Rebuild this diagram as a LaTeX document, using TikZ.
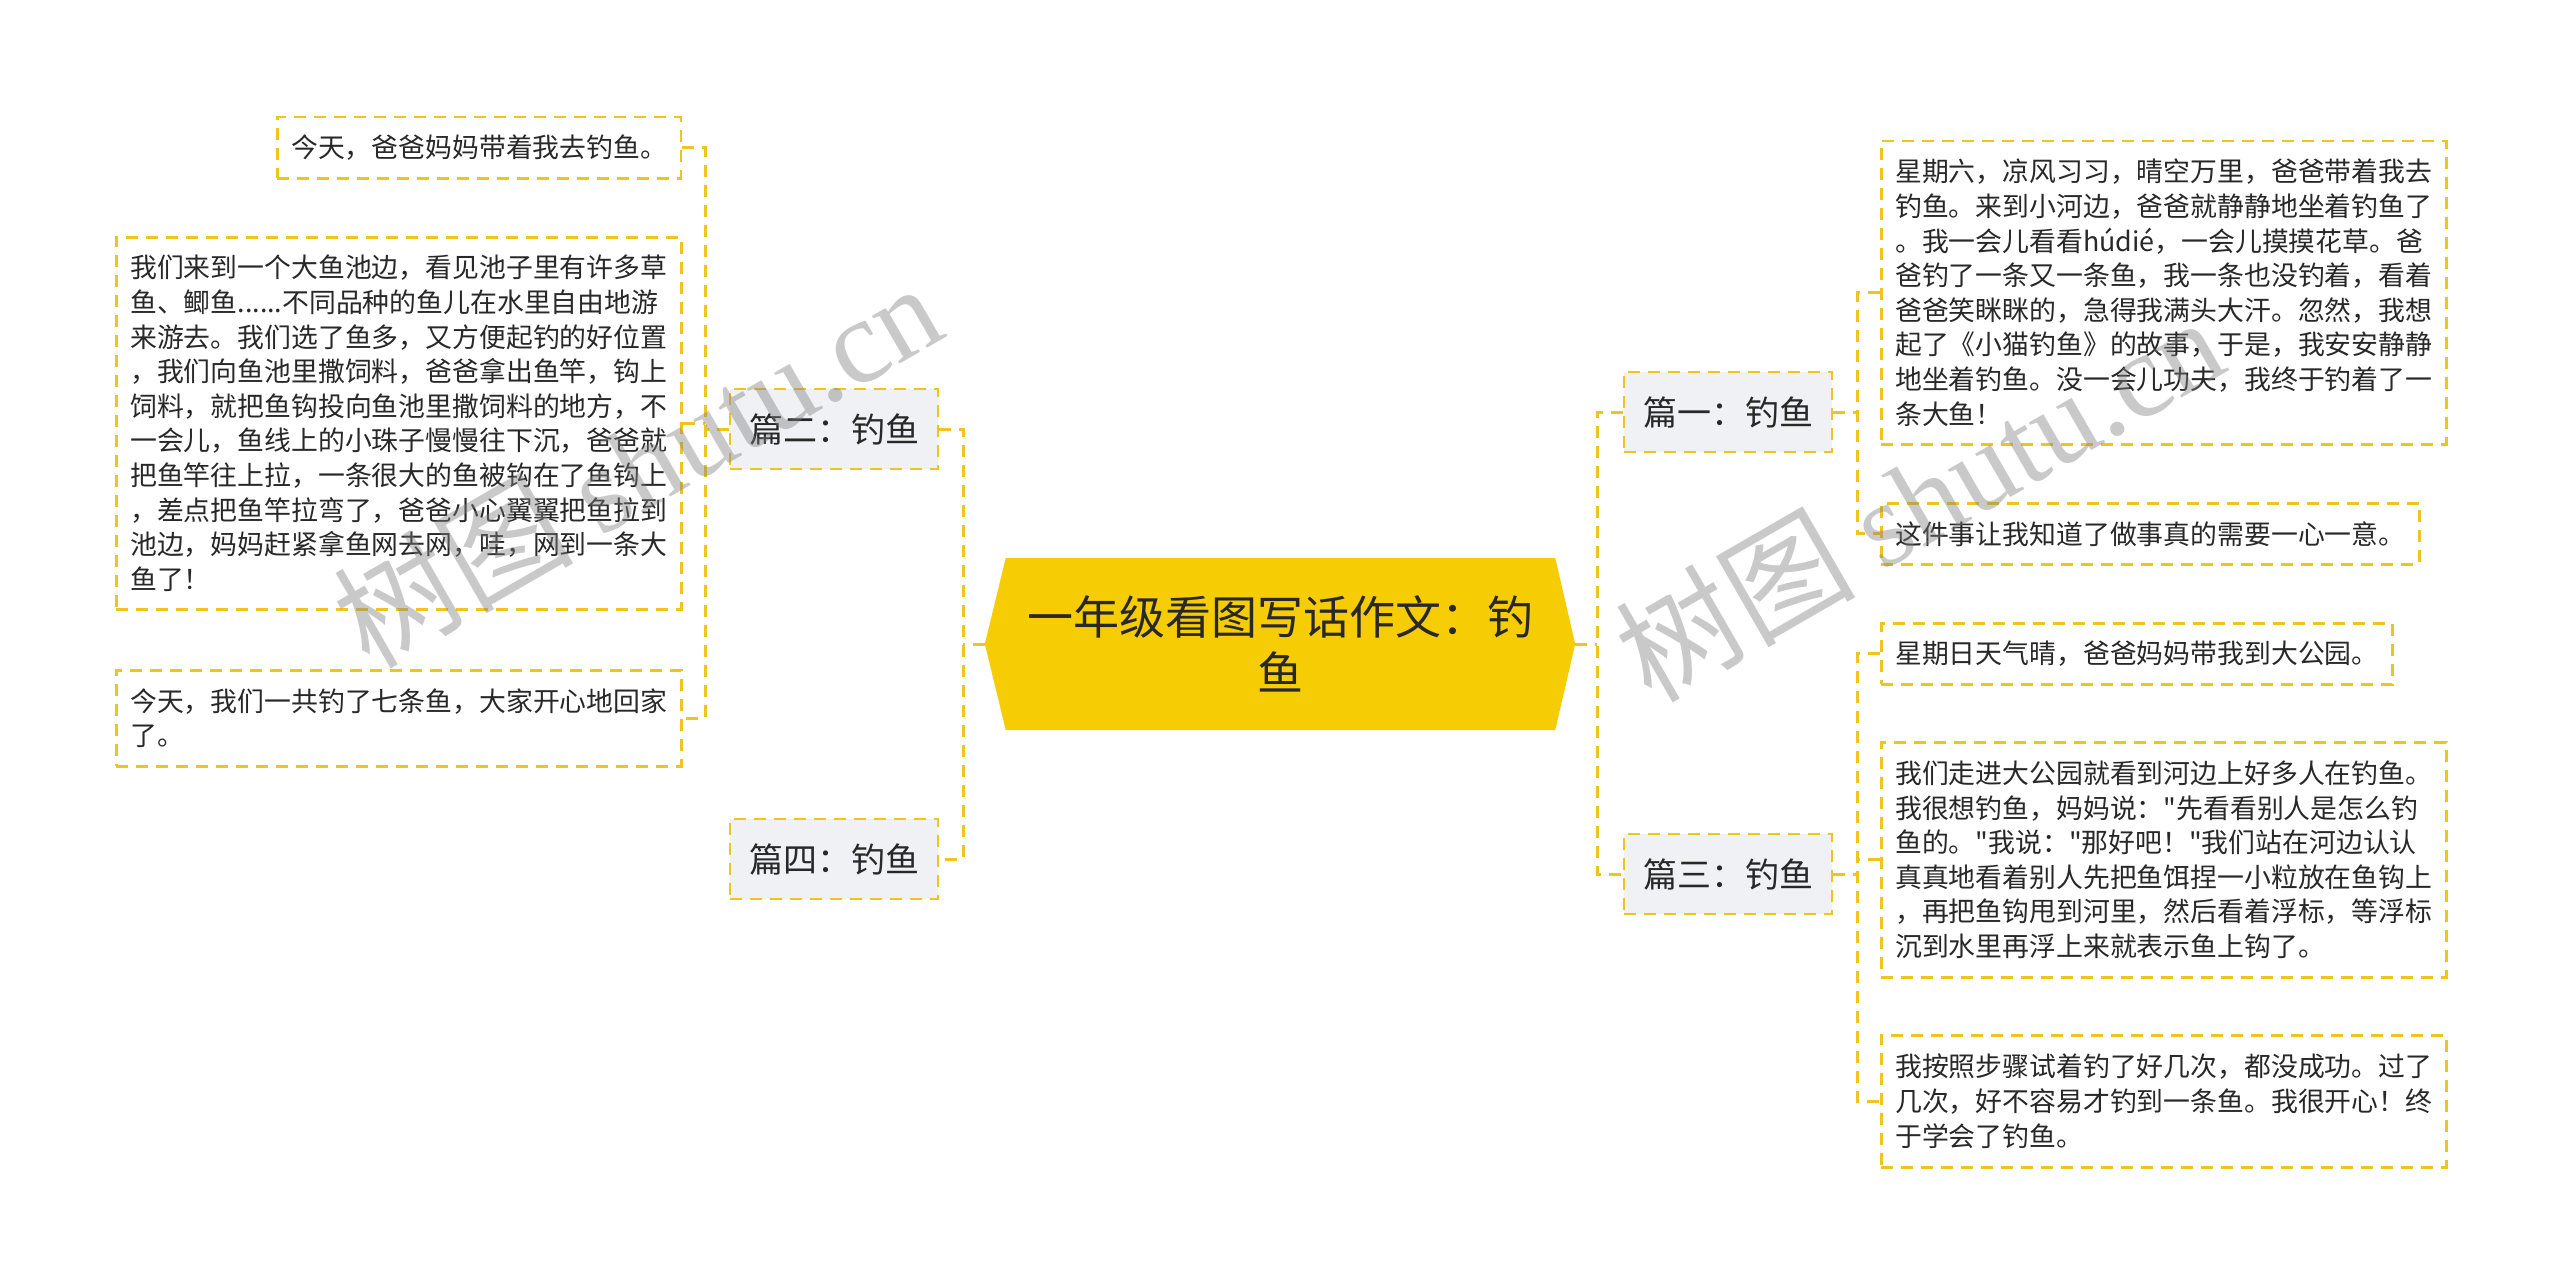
\documentclass[tikz,border=0pt]{standalone}
\usepackage{fontspec}
\setmainfont{Noto Sans CJK SC}
\newfontfamily\bodyfont{Noto Sans CJK SC}
\newfontfamily\wmlatin{Liberation Serif}
\newfontfamily\wmcjk{Noto Sans CJK SC}
\usetikzlibrary{backgrounds}
\definecolor{ylw}{RGB}{240,196,30}
\definecolor{cfill}{RGB}{246,205,5}
\definecolor{pfill}{RGB}{239,241,244}
\definecolor{txt}{RGB}{40,40,40}
\tikzset{
  conn/.style={draw=ylw, line width=3pt, dash pattern=on 12pt off 8pt},
  leaf/.style={draw=ylw, line width=2.5pt, dash pattern=on 12pt off 8pt, fill=white,
    anchor=north west, align=left, inner xsep=14pt, inner ysep=0pt,
    font=\bodyfont\fontsize{26.85}{34.6}\selectfont, text=txt},
  part/.style={draw=ylw, line width=2.5pt, dash pattern=on 12pt off 8pt, fill=pfill,
    minimum width=208pt, minimum height=80pt, inner sep=0pt,
    font=\bodyfont\fontsize{34}{40}\selectfont, text=txt},
  centre/.style={minimum width=590pt, minimum height=172pt, inner sep=0pt, align=center,
    font=\bodyfont\fontsize{46}{56}\selectfont, text=txt},
  wm/.style={rotate=30, anchor=base west, inner sep=0pt, text=gray, text opacity=0.42,
    font=\fontsize{120}{125}\selectfont}
}
\begin{document}
\begin{tikzpicture}[x=1pt, y=-1pt]
\useasboundingbox (0,0) rectangle (2560,1279);

% centre
\node[centre] (C) at (1280,644) {一年级看图写话作文：钓\\鱼};

% parts
\node[part] (P2) at (834,429) {篇二：钓鱼};
\node[part] (P4) at (834,859) {篇四：钓鱼};
\node[part] (P1) at (1728,412) {篇一：钓鱼};
\node[part] (P3) at (1728,874) {篇三：钓鱼};

% left leaves
\node[leaf, minimum height=61pt] (L1) at (276,116) {今天，爸爸妈妈带着我去钓鱼。};
\node[leaf, minimum height=372pt] (L2) at (115,236) {我们来到一个大鱼池边，看见池子里有许多草\\
鱼、鲫鱼......不同品种的鱼儿在水里自由地游\\
来游去。我们选了鱼多，又方便起钓的好位置\\
，我们向鱼池里撒饲料，爸爸拿出鱼竿，钩上\\
饲料，就把鱼钩投向鱼池里撒饲料的地方，不\\
一会儿，鱼线上的小珠子慢慢往下沉，爸爸就\\
把鱼竿往上拉，一条很大的鱼被钩在了鱼钩上\\
，差点把鱼竿拉弯了，爸爸小心翼翼把鱼拉到\\
池边，妈妈赶紧拿鱼网去网，哇，网到一条大\\
鱼了！};
\node[leaf, minimum height=96pt] (L3) at (115,669) {今天，我们一共钓了七条鱼，大家开心地回家\\了。};

% right leaves
\node[leaf, minimum height=303pt] (R1) at (1880,140) {星期六，凉风习习，晴空万里，爸爸带着我去\\
钓鱼。来到小河边，爸爸就静静地坐着钓鱼了\\
。我一会儿看看húdié，一会儿摸摸花草。爸\\
爸钓了一条又一条鱼，我一条也没钓着，看着\\
爸爸笑眯眯的，急得我满头大汗。忽然，我想\\
起了《小猫钓鱼》的故事，于是，我安安静静\\
地坐着钓鱼。没一会儿功夫，我终于钓着了一\\
条大鱼！};
\node[leaf, minimum height=61pt] (R2) at (1880,502) {这件事让我知道了做事真的需要一心一意。};
\node[leaf, minimum height=61pt] (R3) at (1880,622) {星期日天气晴，爸爸妈妈带我到大公园。};
\node[leaf, minimum height=235pt] (R4) at (1880,741) {我们走进大公园就看到河边上好多人在钓鱼。\\
我很想钓鱼，妈妈说："先看看别人是怎么钓\\
鱼的。"我说："那好吧！"我们站在河边认认\\
真真地看着别人先把鱼饵捏一小粒放在鱼钩上\\
，再把鱼钩甩到河里，然后看着浮标，等浮标\\
沉到水里再浮上来就表示鱼上钩了。};
\node[leaf, minimum height=132pt] (R5) at (1880,1034) {我按照步骤试着钓了好几次，都没成功。过了\\
几次，好不容易才钓到一条鱼。我很开心！终\\
于学会了钓鱼。};

% junction coordinates
\coordinate (jCL) at (963,644);
\coordinate (jCR) at (1597,644);
\coordinate (jL) at (705,429);
\coordinate (jR) at (1857,412);

\begin{pgfonlayer}{background}
\fill[white] (0,0) rectangle (2560,1279);
\fill[cfill] (C.west) -- ([xshift=21pt]C.north west) -- ([xshift=-20pt]C.north east)
  -- (C.east) -- ([xshift=-20pt]C.south east) -- ([xshift=21pt]C.south west) -- cycle;
\draw[conn] (C.west) -- (jCL);
\draw[conn] (P2.east) -- (P2.east -| jCL) -- (P4.east -| jCL) -- (P4.east);
\draw[conn] (C.east) -- (jCR);
\draw[conn] (P1.west) -- (P1.west -| jCR) -- (P3.west -| jCR) -- (P3.west);
\draw[conn] (P2.west) -- (jL);
\draw[conn] (L1.east) -- (L1.east -| jL) -- (L3.east -| jL) -- (L3.east);
\draw[conn] (L2.east) -- (L2.east -| jL);
\draw[conn] (P1.east) -- (jR);
\draw[conn] (R1.west) -- (R1.west -| jR) -- (R2.west -| jR) -- (R2.west);
\draw[conn] (P3.east) -- (P3.east -| jR);
\draw[conn] (R3.west) -- (R3.west -| jR) -- (R5.west -| jR) -- (R5.west);
\draw[conn] (R4.west) -- (R4.west -| jR);
\end{pgfonlayer}

% watermarks
\node[wm] (W1) at (369,671) {{\wmcjk 树图} {\wmlatin shutu.cn}};
\node[wm] (W2) at (1651,705) {{\wmcjk 树图} {\wmlatin shutu.cn}};
\end{tikzpicture}
\end{document}
